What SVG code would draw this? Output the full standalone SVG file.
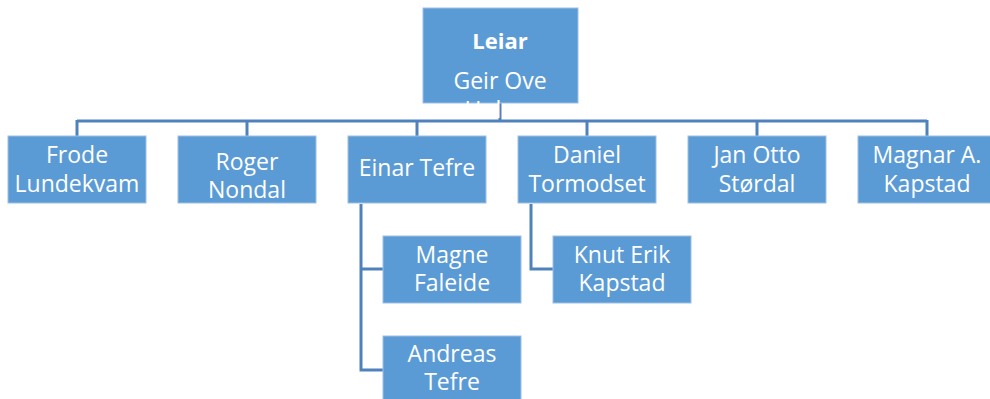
<svg xmlns="http://www.w3.org/2000/svg" width="990" height="399" viewBox="0 0 990 399">
<style>
.box{fill:#5b9bd5;stroke:#9dbfe4;stroke-width:1}
.t{font-family:"Open Sans","Liberation Sans",sans-serif;font-size:23px;fill:#ffffff;text-anchor:middle}
.b{font-weight:bold;font-size:22px}
.c{fill:none;stroke:#4f81bd;stroke-width:3}
</style>
<rect width="990" height="399" fill="#ffffff"/>
<g id="connectors">
<path class="c" d="M500,103 V121 M77,121 H927 M77,120 V136 M247,120 V136 M417,120 V136 M587,120 V136 M757,120 V136 M927,120 V136"/>
<path class="c" d="M361,204 V370 H383 M361,269 H383"/>
<path class="c" d="M531,204 V269 H553"/>
</g>
<g id="leiar">
<rect class="box" x="423" y="8" width="155" height="95"/>
<text class="t b" x="500" y="49">Leiar</text>
<text class="t" x="500" y="89">Geir Ove</text>
<text class="t" x="500" y="118">Holme</text>
</g>
<g id="frode">
<rect class="box" x="8" y="136" width="138" height="67"/>
<text class="t" x="77" y="163">Frode</text>
<text class="t" x="77" y="192">Lundekvam</text>
</g>
<g id="roger">
<rect class="box" x="178" y="136" width="138" height="67"/>
<text class="t" x="247" y="170">Roger</text>
<text class="t" x="247" y="198">Nondal</text>
</g>
<g id="einar">
<rect class="box" x="348" y="136" width="138" height="67"/>
<text class="t" x="417" y="176">Einar Tefre</text>
</g>
<g id="daniel">
<rect class="box" x="518" y="136" width="138" height="67"/>
<text class="t" x="587" y="163">Daniel</text>
<text class="t" x="587" y="192">Tormodset</text>
</g>
<g id="janotto">
<rect class="box" x="688" y="136" width="138" height="67"/>
<text class="t" x="757" y="163">Jan Otto</text>
<text class="t" x="757" y="192">Størdal</text>
</g>
<g id="magnar">
<rect class="box" x="858" y="136" width="138" height="67"/>
<text class="t" x="927" y="163">Magnar A.</text>
<text class="t" x="927" y="192">Kapstad</text>
</g>
<g id="magne">
<rect class="box" x="383" y="236" width="138" height="67"/>
<text class="t" x="452" y="263">Magne</text>
<text class="t" x="452" y="291">Faleide</text>
</g>
<g id="andreas">
<rect class="box" x="383" y="336" width="138" height="70"/>
<text class="t" x="452" y="362">Andreas</text>
<text class="t" x="452" y="390">Tefre</text>
</g>
<g id="knut">
<rect class="box" x="553" y="236" width="138" height="67"/>
<text class="t" x="622" y="263">Knut Erik</text>
<text class="t" x="622" y="291">Kapstad</text>
</g>
</svg>
